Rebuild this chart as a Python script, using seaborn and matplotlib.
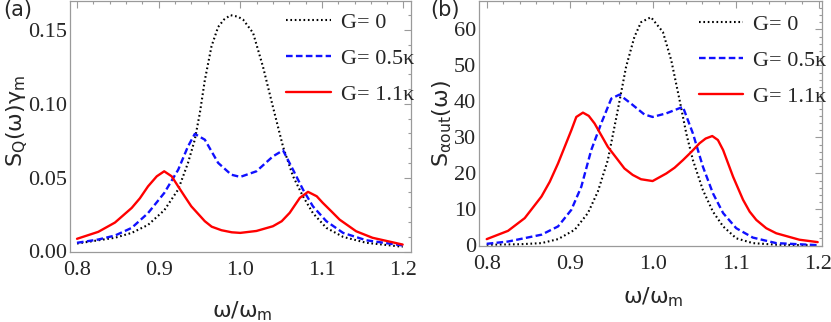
import numpy as np
import pandas as pd
import matplotlib
matplotlib.use("Agg")
import matplotlib.pyplot as plt
from matplotlib.ticker import MultipleLocator
import seaborn as sns

# ---------------- data ----------------
# panel (a): S_Q(w) gamma_m
a_g0_x = [0.800, 0.8465, 0.867, 0.887, 0.907, 0.924, 0.936, 0.9443, 0.9505, 0.9566,
          0.9648, 0.9729, 0.980, 0.988, 0.997, 1.0035, 1.0157, 1.0279, 1.040, 1.0524,
          1.0646, 1.0768, 1.089, 1.1055, 1.126, 1.1544, 1.199]
a_g0_y = [0.0054, 0.0093, 0.0126, 0.018, 0.028, 0.042, 0.060, 0.0757, 0.0937, 0.116,
          0.139, 0.152, 0.157, 0.160, 0.159, 0.157, 0.148, 0.125, 0.098, 0.071,
          0.051, 0.0374, 0.026, 0.016, 0.0099, 0.0059, 0.0032]

a_g05_x = [0.800, 0.826, 0.8465, 0.867, 0.887, 0.907, 0.924, 0.936, 0.9443, 0.9566,
           0.9729, 0.989, 1.000, 1.0198, 1.040, 1.0524, 1.0646, 1.0768, 1.089, 1.1055,
           1.126, 1.1544, 1.199]
a_g05_y = [0.0059, 0.0081, 0.0108, 0.016, 0.026, 0.0397, 0.0554, 0.0712, 0.0796, 0.0757,
           0.060, 0.052, 0.0505, 0.0543, 0.0644, 0.0685, 0.0554, 0.042, 0.0306, 0.0205,
           0.0126, 0.0076, 0.0041]

a_g11_x = [0.800, 0.826, 0.8465, 0.867, 0.877, 0.887, 0.8977, 0.9068, 0.916, 0.924,
           0.9323, 0.940, 0.9566, 0.965, 0.977, 0.9896, 1.000, 1.0198, 1.040, 1.0508,
           1.0606, 1.073, 1.083, 1.0937, 1.101, 1.112, 1.1217, 1.142, 1.162, 1.199]
a_g11_y = [0.0086, 0.0133, 0.0196, 0.0295, 0.036, 0.0441, 0.0509, 0.0543, 0.0509, 0.044,
           0.037, 0.0306, 0.0205, 0.0168, 0.0144, 0.0130, 0.0126, 0.0139, 0.0171, 0.0205,
           0.0262, 0.0363, 0.0404, 0.0374, 0.033, 0.027, 0.0216, 0.0137, 0.0093, 0.0047]

# panel (b): S_aout(w)
b_g0_x = [0.800, 0.840, 0.866, 0.886, 0.906, 0.922, 0.934, 0.946, 0.958, 0.968,
          0.978, 0.986, 0.998, 1.0124, 1.0225, 1.0325, 1.0406, 1.0486, 1.0606, 1.0727,
          1.085, 1.1008, 1.1208, 1.150, 1.200]
b_g0_y = [0.2, 0.35, 0.66, 1.77, 4.35, 9.0, 15.0, 23.7, 37.6, 49.6,
          57.9, 62.0, 63.4, 59.3, 51.4, 40.4, 31.1, 23.7, 15.4, 9.4,
          5.3, 2.0, 0.66, 0.2, 0.05]

b_g05_x = [0.800, 0.8257, 0.8458, 0.866, 0.886, 0.902, 0.914, 0.926, 0.938, 0.9502,
           0.960, 0.974, 0.990, 1.000, 1.0165, 1.0365, 1.0486, 1.0606, 1.0727, 1.085,
           1.1008, 1.1208, 1.149, 1.199]
b_g05_y = [0.47, 1.1, 2.05, 3.0, 5.3, 9.9, 16.3, 26.5, 33.9, 40.8,
           41.9, 39.4, 36.4, 35.7, 36.7, 38.5, 31.1, 21.9, 14.5, 9.0,
           4.8, 2.2, 0.66, 0.1]

b_g11_x = [0.800, 0.8257, 0.8458, 0.866, 0.876, 0.886, 0.894, 0.902, 0.908, 0.916,
           0.923, 0.930, 0.946, 0.9567, 0.966, 0.976, 0.986, 1.000, 1.0165, 1.0265,
           1.0365, 1.0467, 1.0566, 1.0639, 1.0719, 1.0787, 1.085, 1.091, 1.097, 1.103,
           1.109, 1.117, 1.125, 1.137, 1.149, 1.177, 1.199]
b_g11_y = [1.77, 4.07, 7.6, 13.6, 17.7, 22.8, 27.4, 32.0, 35.7, 36.9,
           36.0, 33.9, 27.4, 24.2, 21.4, 19.6, 18.4, 17.9, 20.0, 21.6,
           23.7, 26.0, 28.4, 29.7, 30.4, 29.3, 26.5, 22.8, 19.1, 15.9,
           12.7, 9.4, 7.1, 4.8, 3.4, 1.6, 0.94]

labels = ["G= 0", "G= 0.5\u03ba", "G= 1.1\u03ba"]
x_ticks = [0.8, 0.9, 1.0, 1.1, 1.2]
x_ticklabels = ["0.8", "0.9", "1.0", "1.1", "1.2"]
a_yticks = [0.00, 0.05, 0.10, 0.15]
a_yticklabels = ["0.00", "0.05", "0.10", "0.15"]
b_yticks = [0, 10, 20, 30, 40, 50, 60]
b_yticklabels = ["0", "10", "20", "30", "40", "50", "60"]

# ---------------- style ----------------
sns.set_theme(style="white")
plt.rcParams["font.family"] = ["DejaVu Sans"]
plt.rcParams["mathtext.default"] = "regular"

W, H = 831, 322
fig = plt.figure(figsize=(W / 100, H / 100), dpi=100)
fig.patch.set_facecolor("white")

def frac(l, r, t, b):
    return [l / W, 1 - b / H, (r - l) / W, (b - t) / H]

ax_a = fig.add_axes(frac(70, 410.5, 1, 251.5))
ax_b = fig.add_axes(frac(479, 822, 1, 245.5))

styles = [
    dict(color="black", lw=1.5, ls=(0, (0.8, 1.3))),
    dict(color="#1010ff", lw=1.7, ls=(0, (2.8, 1.4))),
    dict(color="#ff0000", lw=1.7, ls="-"),
]

serif = "Liberation Serif"
frame_col = "#9a9a9a"

def draw(ax, series, xlim, ylim, yticks, yticklabels, yminor):
    for (xs, ys), lab, st in zip(series, labels, styles):
        df = pd.DataFrame({"x": xs, "y": ys})
        sns.lineplot(data=df, x="x", y="y", ax=ax, label=lab, color=st["color"],
                     linewidth=st["lw"], linestyle=st["ls"], sort=False,
                     estimator=None)
    ax.set_xlim(*xlim)
    ax.set_ylim(*ylim)
    ax.set_xticks(x_ticks)
    ax.set_xticklabels(x_ticklabels, fontfamily=serif, fontsize=16)
    ax.set_yticks(yticks)
    ax.set_yticklabels(yticklabels, fontfamily=serif, fontsize=16)
    ax.xaxis.set_minor_locator(MultipleLocator(0.02))
    ax.yaxis.set_minor_locator(MultipleLocator(yminor))
    ax.tick_params(which="both", direction="in", top=True, right=True,
                   color=frame_col, width=0.8)
    ax.tick_params(which="major", length=5)
    ax.tick_params(which="minor", length=2.5)
    ax.tick_params(axis="x", which="major", pad=7)
    ax.tick_params(axis="y", which="major", pad=2)
    for s in ax.spines.values():
        s.set_color(frame_col)
        s.set_linewidth(0.9)
        s.set_visible(True)
    ax.set_facecolor("white")
    ax.grid(False)

draw(ax_a, [(a_g0_x, a_g0_y), (a_g05_x, a_g05_y), (a_g11_x, a_g11_y)],
     (0.7914, 1.2086), (0.0, 0.1696), a_yticks, a_yticklabels, 0.01)
draw(ax_b, [(b_g0_x, b_g0_y), (b_g05_x, b_g05_y), (b_g11_x, b_g11_y)],
     (0.7907, 1.2042), (0.0, 67.9), b_yticks, b_yticklabels, 2)

# axis labels
ax_a.set_xlabel("\u03c9/\u03c9$_m$", fontsize=16)
ax_a.set_ylabel("S$_Q$(\u03c9)\u03b3$_m$", fontsize=16)
ax_a.xaxis.set_label_coords(0.505, -0.19)
ax_a.yaxis.set_label_coords(-0.118, 0.52)

ax_b.set_xlabel("\u03c9/\u03c9$_m$", fontsize=16)
ax_b.set_ylabel("S$_{\\alpha out}$(\u03c9)", fontsize=16)
ax_b.xaxis.set_label_coords(0.507, -0.165)
ax_b.yaxis.set_label_coords(-0.072, 0.50)

# legends
for ax, anchor in ((ax_a, (0.635, 0.955)), (ax_b, (0.64, 0.945))):
    leg = ax.legend(loc="upper left", bbox_to_anchor=anchor, frameon=False,
                    borderpad=0, borderaxespad=0, handlelength=2.0,
                    handletextpad=0.45, labelspacing=0.7,
                    prop={"family": serif, "size": 16})

fig.text(3 / W, 1 - 0 / H, "(a)", fontsize=15, va="top", ha="left")
fig.text(430 / W, 1 - 0 / H, "(b)", fontsize=15, va="top", ha="left")

fig.savefig("out.png", dpi=100)
